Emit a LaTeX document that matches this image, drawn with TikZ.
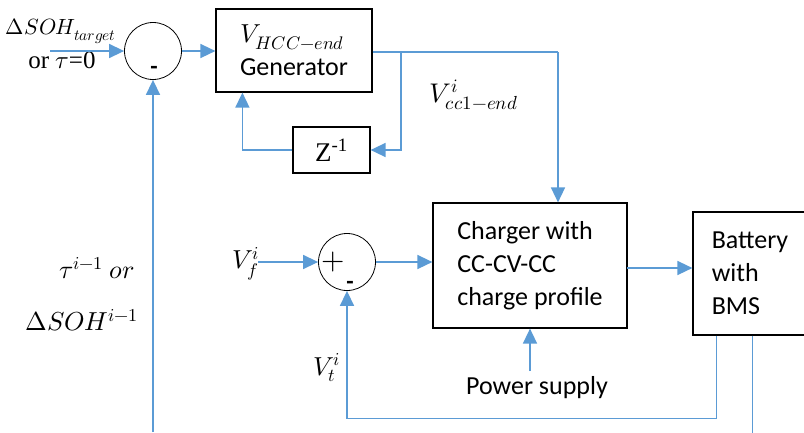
\documentclass[tikz,border=0pt]{standalone}
\usepackage{fontspec}
\usepackage{unicode-math}
\setmainfont{Liberation Serif}
\newfontfamily\boxfont{Carlito}
\newfontfamily\zfont{Liberation Serif}
\usetikzlibrary{arrows.meta,positioning,calc}
\definecolor{wire}{HTML}{5B9BD5}

\begin{document}
\begin{tikzpicture}[x=1pt, y=-1pt, >={Triangle[length=15pt,width=14pt]},
	wire/.style={draw=wire, line width=1.5pt},
	block/.style={draw=black, line width=1.2pt, inner sep=0pt, align=left,
		font=\boxfont\fontsize{26}{33}\selectfont},
	sumnode/.style={draw=black, line width=0.8pt, circle, inner sep=0pt, minimum size=57pt},
	lbl/.style={inner sep=0pt, font=\fontsize{25}{30}\selectfont},
	sgn/.style={inner sep=0pt, font=\boxfont\bfseries\fontsize{24}{24}\selectfont}]

	\useasboundingbox (0,0) rectangle (804,432);

	% ---- blocchi ----
	\node[block, minimum width=156pt, minimum height=83pt] (gen) at (294,50.5)
		{$V_{HCC-end}$\\Generator};
	\node[block, minimum width=77pt, minimum height=46pt] (zbox) at (331.5,150)
		{\zfont\fontsize{27}{30}\selectfont Z\textsuperscript{-1}};
	\node[block, minimum width=194pt, minimum height=125pt] (chg) at (530,265.5)
		{Charger with\\CC-CV-CC\\charge profile};
	\node[block, minimum width=114pt, minimum height=123pt] (bat) at (750,273.5)
		{Battery\\with\\BMS};

	% ---- sommatori ----
	\node[sumnode] (sumA) at (153,51) {};
	\node[sgn] (sumAm) at (154,70) {-};
	\node[sumnode] (sumB) at (347,262) {};
	\node[font=\fontsize{30}{30}\selectfont, inner sep=0pt] (sumBp) at (333,262) {$+$};
	\node[sgn] (sumBm) at (350,285) {-};

	% ---- etichette ----
	\node[lbl, font=\fontsize{22}{28}\selectfont] (tgt) at (61,31) {$\Delta SOH_{target}$};
	\node[lbl] (tau0) at (62,60) {or $\tau$=0};
	\node[lbl, font=\fontsize{27}{30}\selectfont] (vcc) at (474,95) {$V_{cc1-end}^{i}$};
	\node[lbl, font=\fontsize{26}{30}\selectfont] (vf) at (246,264) {$V_{f}^{i}$};
	\node[lbl, font=\fontsize{26}{30}\selectfont] (vt) at (327,368) {$V_{t}^{i}$};
	\node[lbl, font=\fontsize{26}{30}\selectfont] (prev) at (97,268) {$\tau^{i-1}\ or$};
	\node[lbl, font=\fontsize{26}{30}\selectfont] (sohprev) at (82,320) {$\Delta SOH^{i-1}$};
	\node[block, draw=none] (ps) at (537,388) {Power supply};

	% ---- punti liberi ----
	\coordinate (tgtin) at (50,51);
	\coordinate (split) at (401,52);
	\coordinate (turn) at (558,52);
	\coordinate (sohin) at (153,432);
	\coordinate (vfin) at (258,262);
	\coordinate (cb) at (627,268);
	\coordinate (psin) at (530,371);

	% ---- collegamenti ----
	\draw[wire,->] (tgtin) -- (sumA);
	\draw[wire,->] (sumA.east) -- (sumA.east -| gen.west);
	\draw[wire] (gen.east |- turn) -- (turn);
	\draw[wire,->] (turn) -- (turn |- chg.north);
	\draw[wire,->] (split) |- (zbox.east);
	\draw[wire,->] (zbox.west) -| ([xshift=27pt]gen.south west);
	\draw[wire,->] (sohin) -- (sumA.south);
	\draw[wire,->] (vfin) -- (sumB.west);
	\draw[wire,->] (sumB.east) -- (sumB.east -| chg.west);
	\draw[wire,->] (cb) -- (cb -| bat.west);
	\draw[wire,->] (psin) -- (chg.south);
	\draw[wire,->] ([xshift=24pt]bat.south west) -- ++(0,83) -| (sumB.south);
	\draw[wire] ([xshift=60pt]bat.south west) -- ++(0,100);

\end{tikzpicture}
\end{document}
